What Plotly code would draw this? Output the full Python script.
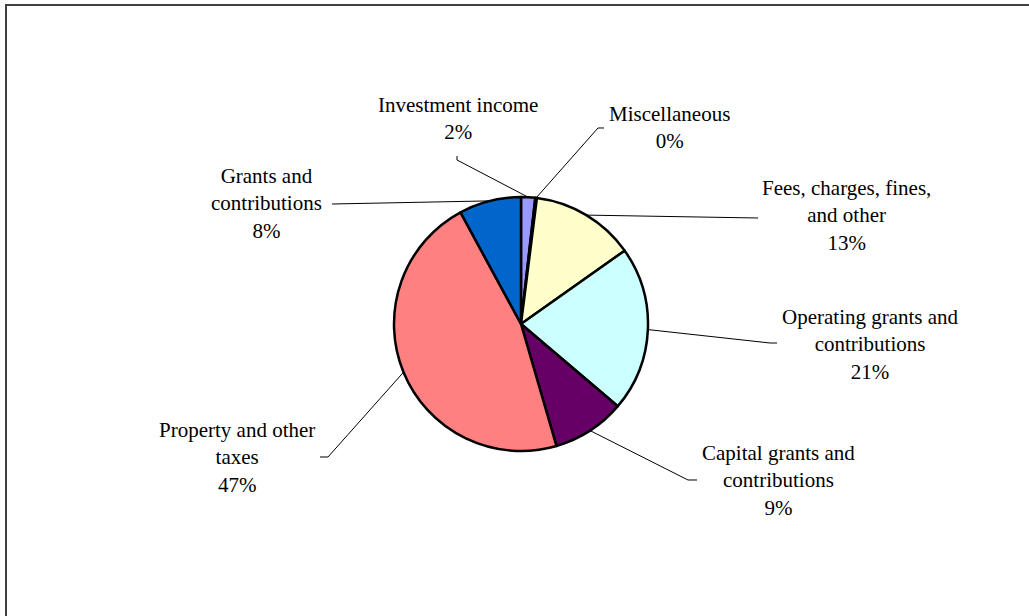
import math
import plotly.graph_objects as go

# ---- data ----
categories = [
    "Investment income",
    "Miscellaneous",
    "Fees, charges, fines, and other",
    "Operating grants and contributions",
    "Capital grants and contributions",
    "Property and other taxes",
    "Grants and contributions",
]
label_text = [
    "Investment income",
    "Miscellaneous",
    "Fees, charges, fines,<br>and other",
    "Operating grants and<br>contributions",
    "Capital grants and<br>contributions",
    "Property and other<br>taxes",
    "Grants and<br>contributions",
]
values = [1.8, 0.2, 13.2, 21.0, 9.3, 46.6, 7.9]
colors = ["#9999FF", "#993366", "#FFFFCC", "#CCFFFF", "#660066", "#FF8080", "#0066CC"]

W, H = 1029, 616
CX, CY, R = 521, 324, 127

# label block centres (px) and leader-line elbows (px) -- layout only
label_pos = [(458, 119), (669, 127), (846, 215), (870, 344), (778, 480), (237, 457), (266, 203)]
leader_tail = [
    [(457, 160), (457, 156)],
    [(598, 128), (604, 128)],
    [(758, 218)],
    [(770, 343), (777, 343)],
    [(688, 480), (697, 480)],
    [(328, 457), (320, 457)],
    [(332, 204)],
]

def px(x):
    return x / W

def py(y):
    return 1 - y / H

fig = go.Figure()
fig.add_trace(go.Pie(
    labels=categories,
    values=values,
    sort=False,
    direction="clockwise",
    rotation=0,
    textinfo="none",
    hoverinfo="label+percent",
    marker=dict(colors=colors, line=dict(color="black", width=2.5)),
    domain=dict(x=[px(CX - R), px(CX + R)], y=[py(CY + R), py(CY - R)]),
    showlegend=False,
))

total = sum(values)
shapes = []
annotations = []
cum = 0.0
for i, v in enumerate(values):
    mid = (cum + v / 2) / total
    cum += v
    ang = 2 * math.pi * mid
    sx = CX + R * math.sin(ang)
    sy = CY - R * math.cos(ang)
    pts = [(sx, sy)] + leader_tail[i]
    path = "M " + " L ".join(f"{px(x):.5f},{py(y):.5f}" for x, y in pts)
    shapes.append(dict(type="path", xref="paper", yref="paper", path=path,
                       line=dict(color="black", width=1)))
    pct = round(100 * v / total)
    lx, ly = label_pos[i]
    annotations.append(dict(
        x=px(lx), y=py(ly), xref="paper", yref="paper",
        text=f"{label_text[i]}<br>{pct}%", showarrow=False,
        xanchor="center", yanchor="middle", align="center",
        font=dict(family="Liberation Serif", size=21, color="black"),
    ))

# chart-area border (top and left visible)
shapes.append(dict(type="rect", xref="paper", yref="paper",
                   x0=px(6), x1=px(W + 10), y0=py(H + 10), y1=py(5),
                   line=dict(color="#404040", width=2)))

fig.update_layout(
    width=W, height=H,
    margin=dict(l=0, r=0, t=0, b=0),
    paper_bgcolor="white", plot_bgcolor="white",
    font=dict(family="Liberation Serif"),
    shapes=shapes, annotations=annotations,
)
fig.write_html("out.html")
